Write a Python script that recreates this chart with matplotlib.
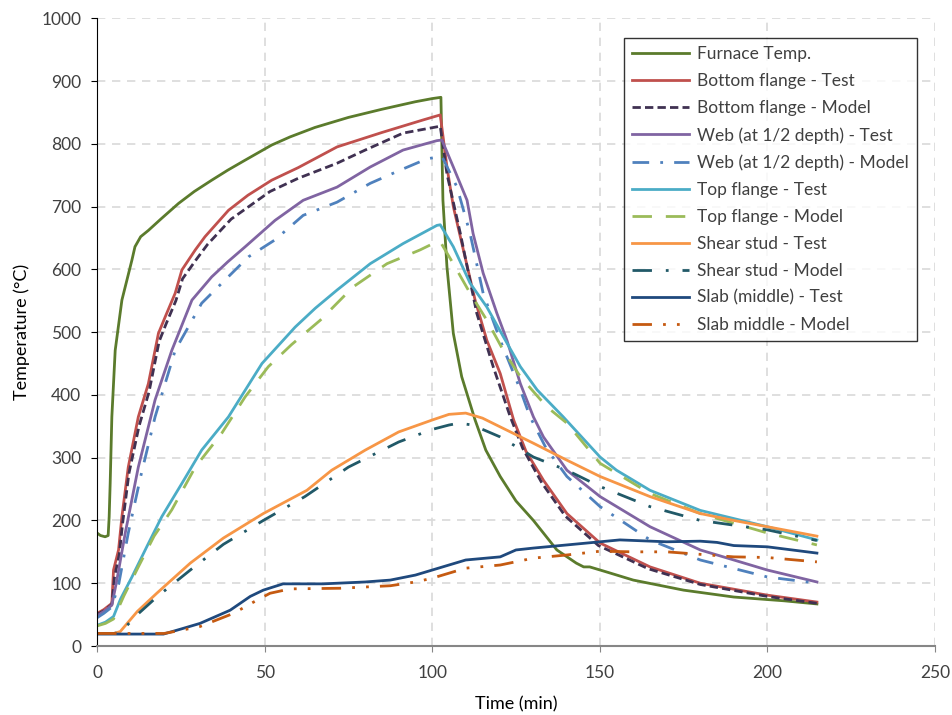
import matplotlib
matplotlib.use("Agg")
import matplotlib.pyplot as plt

# furnace temperature
furn_t = [0, 1, 2.4, 3.3, 3.6, 3.9, 4.4, 5.4, 7.4, 8.9, 10.4, 11.3, 13, 15.3, 19, 24.3, 29, 34.2, 39, 44.2, 52.1, 57.6, 65, 75, 85, 95, 100, 102.6,
          103.2, 104.4, 106.3, 108.8, 112.8, 116, 120.3, 125, 130.2, 137.2, 143, 145.2, 147, 152, 160, 175, 190, 205, 214.8]
furn_y = [180, 176, 174, 176, 206, 259, 365, 471, 551, 583, 615, 636, 652, 662, 680, 705, 724, 742, 758, 774, 798, 811, 826, 842, 855, 867, 872, 874,
          710, 604, 498, 429, 360, 312, 270, 231, 200, 153, 132, 126, 126, 118, 105, 89, 78, 72, 67]

# bottom flange
bf_test_t = [0, 2, 4.4, 4.9, 6.4, 7.4, 9.3, 12.3, 15.3, 18.3, 20.3, 23.3, 25.3, 29.3, 32.2, 39.2, 45, 52.1, 60, 71.6, 85, 97.3, 102.4,
             104.4, 106.3, 109.3, 112.8, 116.3, 120.3, 124.3, 128, 133.2, 140.2, 150.1, 165, 180, 200, 214.8]
bf_test_y = [52, 58, 68, 121, 153, 206, 285, 365, 418, 498, 524, 562, 599, 631, 652, 694, 718, 742, 762, 795, 818, 838, 846,
             763, 700, 631, 551, 487, 434, 360, 310, 264, 211, 164, 126, 100, 81, 70]
bf_model_t = [0, 2, 4.4, 5.2, 6.6, 7.6, 9.5, 12.5, 15.5, 18.5, 20.5, 23.5, 25.5, 29.5, 33, 40, 51.6, 60, 71.6, 80, 91.3, 102.4,
              104.4, 108.4, 113.3, 118.2, 123.3, 127, 132.7, 139.7, 149.6, 164.5, 180, 200, 214.8]
bf_model_y = [50, 56, 66, 110, 145, 195, 275, 350, 405, 485, 512, 550, 585, 615, 640, 680, 724, 745, 769, 790, 817, 828,
              752, 657, 530, 445, 365, 315, 260, 207, 160, 123, 98, 79, 68]

# web
web_test_t = [0, 2, 4.4, 5.9, 8.4, 12.3, 17.3, 22.3, 28.3, 34.2, 39, 44.2, 53.1, 61.5, 71.6, 81.5, 91.3, 101.4, 102.9,
              106.3, 110.4, 112.2, 115.2, 119.3, 122.3, 126.3, 130.2, 133.2, 140.2, 150.1, 165, 180, 200, 214.8]
web_test_y = [48, 55, 65, 105, 180, 285, 392, 471, 551, 588, 612, 636, 678, 710, 731, 763, 790, 805, 806,
              763, 710, 657, 594, 530, 487, 418, 365, 333, 280, 238, 190, 153, 121, 102]
web_model_t = [0, 2, 4.4, 6.5, 9.3, 13, 17.3, 23.3, 31.2, 41.2, 45.2, 53.1, 61.5, 71.6, 81.5, 90, 98.4, 102.9,
               107.4, 111.3, 115.2, 120.3, 126.3, 129.2, 134, 140.2, 150.1, 165, 180, 200, 214.8]
web_model_y = [45, 52, 62, 100, 180, 270, 365, 471, 546, 599, 620, 647, 686, 707, 737, 757, 776, 780,
               731, 657, 562, 487, 408, 365, 315, 270, 222, 169, 137, 110, 100]

# top flange
tf_test_t = [0, 2.5, 4.9, 7, 10.4, 15, 19.3, 25.3, 31.2, 39.2, 49.2, 59.1, 65.1, 71.6, 81.5, 91.3, 101.4, 102.4,
             106.3, 111.3, 116.3, 121.2, 126.3, 131.3, 139.1, 150.1, 155, 165, 180, 200, 214.8]
tf_test_y = [33, 38, 47, 75, 110, 160, 206, 259, 312, 365, 450, 508, 538, 567, 609, 641, 670, 671,
             636, 578, 540, 493, 445, 408, 365, 301, 280, 248, 216, 190, 169]
tf_model_t = [0, 2.5, 4.9, 8, 12.3, 17, 22.3, 29.3, 37.2, 44.2, 51.1, 58, 66.6, 76.4, 86.5, 96.4, 101.4, 102.4,
              106.3, 111.3, 116.3, 121.2, 126.3, 134.2, 140.2, 150.1, 165, 180, 200, 214.8]
tf_model_y = [32, 36, 43, 80, 126, 175, 217, 285, 339, 397, 445, 480, 519, 572, 609, 631, 644, 644,
              609, 562, 519, 471, 429, 381, 355, 291, 243, 211, 180, 161]

# shear stud
ss_test_t = [0, 3, 5, 6.9, 12, 17.8, 27.8, 37.7, 49.6, 62.6, 70, 80, 90, 100, 105, 110, 115, 120.3,
             130.2, 140.2, 150.1, 165, 180, 190, 200, 214.8]
ss_test_y = [20, 20, 20, 23, 55, 84, 132, 172, 211, 248, 280, 312, 341, 360, 369, 371, 363, 349,
             323, 296, 270, 238, 211, 200, 190, 175]
ss_model_t = [0, 3, 5, 7, 12, 17.8, 27.8, 37.7, 49.6, 62, 75, 90, 100, 105, 108, 112, 120.3,
              130.2, 140.2, 150.1, 165, 180, 200, 214.8]
ss_model_y = [20, 20, 20, 22, 50, 78, 121, 162, 200, 238, 285, 325, 345, 352, 355, 352, 333,
              301, 280, 254, 222, 200, 185, 168]

# slab
slab_test_t = [0, 10, 19.8, 25, 30.7, 39.7, 45.7, 49.6, 55.5, 67.5, 80, 87.5, 95, 100, 110, 120.3,
               125, 130.2, 140.2, 150.1, 156, 170, 180, 185, 190, 200, 214.8]
slab_test_y = [19, 19, 19, 27, 36, 57, 79, 89, 99, 99, 102, 105, 113, 121, 137, 142,
               153, 156, 161, 166, 169, 166, 167, 165, 160, 158, 148]
slab_model_t = [0, 10, 20, 25, 30.7, 40.7, 47.7, 51.6, 57.6, 72.5, 87.5, 95, 100, 110, 120.3,
                130.2, 140.2, 150.1, 160, 170, 180, 190, 200, 214.8]
slab_model_y = [20, 20, 20, 25, 31, 52, 73, 84, 91, 92, 96, 102, 108, 124, 129,
                140, 145, 151, 150, 150, 146, 142, 141, 134]

series = [
    ("Furnace Temp.", furn_t, furn_y, "#5B7B2C", "-"),
    ("Bottom flange - Test", bf_test_t, bf_test_y, "#C0504D", "-"),
    ("Bottom flange - Model", bf_model_t, bf_model_y, "#403152", (0, (3, 1.5))),
    ("Web (at 1/2 depth) - Test", web_test_t, web_test_y, "#8064A2", "-"),
    ("Web (at 1/2 depth) - Model", web_model_t, web_model_y, "#4F81BD", (0, (6, 4, 1, 4))),
    ("Top flange - Test", tf_test_t, tf_test_y, "#4BACC6", "-"),
    ("Top flange - Model", tf_model_t, tf_model_y, "#9BBB59", (0, (7, 5))),
    ("Shear stud - Test", ss_test_t, ss_test_y, "#F79646", "-"),
    ("Shear stud - Model", ss_model_t, ss_model_y, "#215968", (0, (7, 5, 1, 5))),
    ("Slab (middle) - Test", slab_test_t, slab_test_y, "#1F497D", "-"),
    ("Slab middle - Model", slab_model_t, slab_model_y, "#C55A11", (0, (7, 4, 1, 4, 1, 4))),
]

plt.rcParams['font.family'] = ['Lato', 'DejaVu Sans']

fig = plt.figure(figsize=(9.52, 7.15), dpi=100)
ax = fig.add_axes([0.102, 0.0965, 0.880, 0.878])

for label, t, y, color, ls in series:
    ax.plot(t, y, color=color, linestyle=ls, linewidth=2.0, label=label)

ax.set_xlim(0, 250)
ax.set_ylim(0, 1000)
ax.set_xticks(range(0, 251, 50))
ax.set_yticks(range(0, 1001, 100))
ax.grid(True, color="#D9D9D9", linestyle=(0, (5, 4)), linewidth=1.2)
ax.set_axisbelow(True)

for side in ("top", "right"):
    ax.spines[side].set_visible(False)
ax.spines["left"].set_color("black")
ax.spines["bottom"].set_color("#868686")
ax.spines["bottom"].set_linewidth(1.5)
ax.tick_params(axis="both", labelsize=12.5, colors="#404040", length=4.5)
ax.tick_params(axis="y", color="black", pad=7)
ax.tick_params(axis="x", color="#868686", pad=9)

ax.set_xlabel("Time (min)", fontsize=13, color="black", labelpad=11)
ax.set_ylabel("Temperature (°C)", fontsize=13, color="black", labelpad=8)

leg = ax.legend(loc="upper right", bbox_to_anchor=(0.9785, 0.968), fontsize=12.5,
                frameon=True, fancybox=False, handlelength=3.3, labelspacing=0.63,
                borderpad=0.45, handletextpad=0.45, borderaxespad=0)
leg.get_frame().set_edgecolor("black")
leg.get_frame().set_linewidth(1.0)
for txt in leg.get_texts():
    txt.set_color("#404040")

fig.savefig("out.png", dpi=100)
